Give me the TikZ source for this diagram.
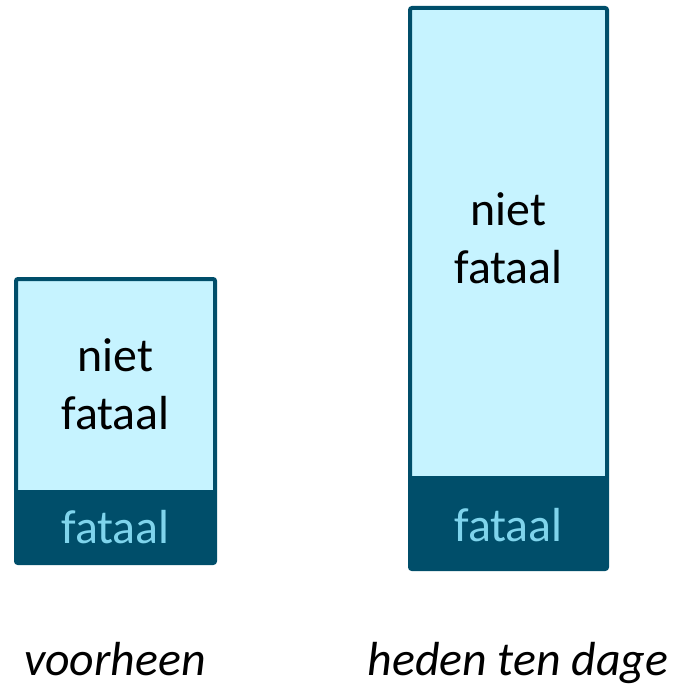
\documentclass[tikz,border=0pt]{standalone}
\usepackage{fontspec}
\setmainfont{Carlito}
\usepackage{xcolor}
\usetikzlibrary{positioning}
\definecolor{donker}{HTML}{004E6A}
\definecolor{licht}{HTML}{C6F3FF}
\definecolor{tekstlicht}{HTML}{7FD4EC}
\tikzset{
	kader/.style={draw=donker,line width=4bp,rounded corners=2bp},
	tekst/.style={align=center,font=\fontsize{48}{58}\selectfont},
	onder/.style={anchor=base,font=\fontsize{48}{58}\selectfont\itshape}
}

\begin{document}
\begin{tikzpicture}[x=1bp,y=-1bp]
	\useasboundingbox (0,0) rectangle (675,690);
	% voorheen
	\fill[licht] (16,279) rectangle (215,490);
	\fill[donker] (16,490) rectangle (215,563);
	\draw[kader] (16,279) rectangle (215,563);
	% heden ten dage
	\fill[licht] (410,8) rectangle (607,476);
	\fill[donker] (410,476) rectangle (607,569);
	\draw[kader] (410,8) rectangle (607,569);
	\node[tekst] (nietlinks) at (115.5,384) {niet\\fataal};
	\node[tekst,text=tekstlicht] (fataallinks) at (115.5,527) {fataal};
	\node[tekst] (nietrechts) at (508.5,238) {niet\\fataal};
	\node[tekst,text=tekstlicht] (fataalrechts) at (508.5,525) {fataal};
	\node[onder] (voorheen) at (115,675) {voorheen};
	\node[onder] (heden) at (518,675) {heden ten dage};
\end{tikzpicture}
\end{document}
